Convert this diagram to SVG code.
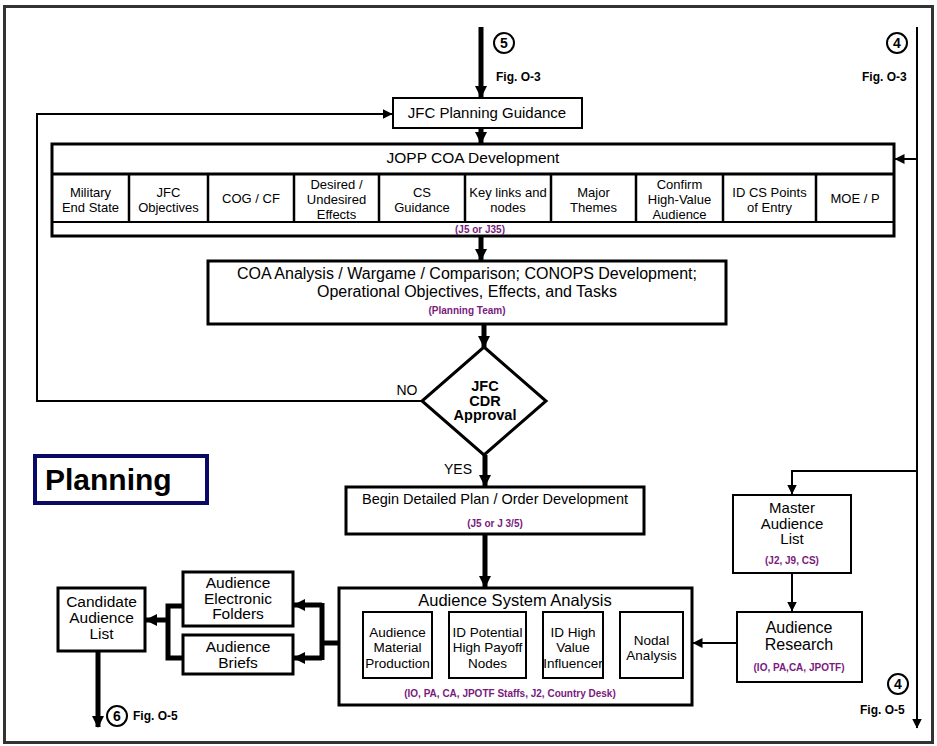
<svg xmlns="http://www.w3.org/2000/svg" width="937" height="746" viewBox="0 0 937 746">
<style>
text{font-family:"Liberation Sans",Arial,sans-serif;fill:#000;text-anchor:middle}
.t13{font-size:13px}.t14{font-size:14px}.t15{font-size:15px}.t16{font-size:16px}
.p{font-size:10px;font-weight:bold;fill:#7a1a7e}
.fig{font-size:12px;font-weight:bold;text-anchor:start}
.num{font-size:14px;font-weight:bold}
.dm{font-size:14.5px;font-weight:bold}
.b2{fill:#fff;stroke:#000;stroke-width:2}
.b3{fill:#fff;stroke:#000;stroke-width:3}
.thick{fill:none;stroke:#000;stroke-width:5}
.thin{fill:none;stroke:#000;stroke-width:2}
</style>
<defs>
<marker id="ah" viewBox="0 0 12 12" refX="11" refY="6" markerWidth="12" markerHeight="12" markerUnits="userSpaceOnUse" orient="auto"><path d="M0,0 L12,6 L0,12 z" fill="#000"/></marker>
<marker id="as" viewBox="0 0 10 10" refX="9.5" refY="5" markerWidth="10" markerHeight="10" markerUnits="userSpaceOnUse" orient="auto"><path d="M0,0 L10,5 L0,10 z" fill="#000"/></marker>
</defs>
<rect x="0" y="0" width="937" height="746" fill="#fff"/>
<rect x="4.5" y="6.5" width="928" height="736" fill="none" stroke="#333" stroke-width="3"/>

<g id="connectors">
<line class="thick" x1="481" y1="27" x2="481" y2="97" marker-end="url(#ah)"/>
<line class="thick" x1="481" y1="128" x2="481" y2="143" marker-end="url(#ah)"/>
<polyline class="thin" points="422,401 37,401 37,114 392,114" marker-end="url(#as)"/>
<line class="thin" x1="917" y1="27" x2="917" y2="728" marker-end="url(#as)"/>
<line class="thin" x1="917" y1="159" x2="895" y2="159" marker-end="url(#as)"/>
<polyline class="thin" points="917,471 792,471 792,494" marker-end="url(#as)"/>
<line class="thick" x1="481" y1="237" x2="481" y2="260" marker-end="url(#ah)"/>
<line class="thick" x1="484" y1="325" x2="484" y2="347" marker-end="url(#ah)"/>
<line class="thick" x1="485" y1="455" x2="485" y2="486" marker-end="url(#ah)"/>
<line class="thick" x1="485" y1="535" x2="485" y2="587" marker-end="url(#ah)"/>
<line class="thin" x1="792" y1="573" x2="792" y2="611" marker-end="url(#as)"/>
<line class="thin" x1="737" y1="643" x2="693" y2="643" marker-end="url(#as)"/>
<line class="thick" x1="620" y1="643" x2="604" y2="643" marker-end="url(#ah)"/>
<line class="thick" x1="543" y1="643" x2="527" y2="643" marker-end="url(#ah)"/>
<line class="thick" x1="449" y1="643" x2="433" y2="643" marker-end="url(#ah)"/>
<line class="thick" x1="363" y1="643" x2="340" y2="643" marker-end="url(#ah)"/>
<line class="thick" x1="339" y1="643" x2="320" y2="643"/>
<line class="thick" x1="322" y1="603" x2="322" y2="660"/>
<line class="thick" x1="322" y1="605" x2="294" y2="605" marker-end="url(#ah)"/>
<line class="thick" x1="322" y1="658" x2="294" y2="658" marker-end="url(#ah)"/>
<polyline class="thick" points="183,606 168,606 168,658 183,658"/>
<line class="thick" x1="168" y1="620" x2="146" y2="620" marker-end="url(#ah)"/>
<line class="thick" x1="98" y1="651" x2="98" y2="727" marker-end="url(#ah)"/>
</g>

<g id="ref5"><circle cx="504" cy="43" r="10" fill="#fff" stroke="#000" stroke-width="2"/><text class="num" x="504" y="48">5</text><text class="fig" x="496" y="81">Fig. O-3</text></g>
<g id="ref4top"><circle cx="897" cy="43" r="10" fill="#fff" stroke="#000" stroke-width="2"/><text class="num" x="897" y="48">4</text><text class="fig" x="862" y="81">Fig. O-3</text></g>
<g id="ref4bot"><circle cx="898" cy="684" r="10" fill="#fff" stroke="#000" stroke-width="2"/><text class="num" x="898" y="689">4</text><text class="fig" x="860" y="714">Fig. O-5</text></g>
<g id="ref6"><circle cx="117" cy="716" r="10" fill="#fff" stroke="#000" stroke-width="2"/><text class="num" x="117" y="721">6</text><text class="fig" x="133" y="720">Fig. O-5</text></g>

<g id="jfc-guidance"><rect class="b2" x="393" y="98" width="189" height="30"/><text class="t15" x="487" y="118">JFC Planning Guidance</text></g>

<g id="jopp">
<rect class="b3" x="52" y="144" width="842" height="92"/>
<line x1="52" y1="174" x2="894" y2="174" stroke="#000" stroke-width="3"/>
<line x1="52" y1="222" x2="894" y2="222" stroke="#000" stroke-width="2"/>
<g stroke="#000" stroke-width="2.5">
<line x1="129" y1="174" x2="129" y2="222"/><line x1="208" y1="174" x2="208" y2="222"/><line x1="294" y1="174" x2="294" y2="222"/><line x1="379" y1="174" x2="379" y2="222"/><line x1="465" y1="174" x2="465" y2="222"/><line x1="551" y1="174" x2="551" y2="222"/><line x1="636" y1="174" x2="636" y2="222"/><line x1="723" y1="174" x2="723" y2="222"/><line x1="816" y1="174" x2="816" y2="222"/>
</g>
<text x="473" y="162.5" style="font-size:15.5px">JOPP COA Development</text>
<text class="t13" x="90.5" y="196.5">Military</text><text class="t13" x="90.5" y="211.5">End State</text>
<text class="t13" x="168.5" y="196.5">JFC</text><text class="t13" x="168.5" y="211.5">Objectives</text>
<text class="t13" x="251" y="202.5">COG / CF</text>
<text class="t13" x="336.5" y="188.5">Desired /</text><text class="t13" x="336.5" y="203.5">Undesired</text><text class="t13" x="336.5" y="218.5">Effects</text>
<text class="t13" x="422" y="196.5">CS</text><text class="t13" x="422" y="211.5">Guidance</text>
<text class="t13" x="508" y="196.5">Key links and</text><text class="t13" x="508" y="211.5">nodes</text>
<text class="t13" x="593.5" y="196.5">Major</text><text class="t13" x="593.5" y="211.5">Themes</text>
<text class="t13" x="679.5" y="188.5">Confirm</text><text class="t13" x="679.5" y="203.5">High-Value</text><text class="t13" x="679.5" y="218.5">Audience</text>
<text class="t13" x="769.5" y="196.5">ID CS  Points</text><text class="t13" x="769.5" y="211.5">of Entry</text>
<text class="t13" x="855" y="202.5">MOE / P</text>
<text class="p" x="480" y="232.5">(J5 or J35)</text>
</g>

<g id="coa-analysis"><rect class="b3" x="208" y="261" width="518" height="63"/>
<text class="t16" x="467" y="279">COA Analysis / Wargame / Comparison; CONOPS Development;</text>
<text class="t16" x="467" y="296.5">Operational Objectives, Effects, and Tasks</text>
<text class="p" x="467" y="314">(Planning Team)</text></g>

<g id="approval"><polygon points="484,347 546,401 484,455 422,401" fill="#fff" stroke="#000" stroke-width="3"/>
<text class="dm" x="485" y="391">JFC</text>
<text class="dm" x="485" y="405.5">CDR</text>
<text class="dm" x="485" y="420">Approval</text>
<text class="t14" x="407" y="395">NO</text>
<text class="t14" x="458" y="474">YES</text></g>

<g id="planning-title"><rect x="35" y="456" width="172" height="47" fill="#fff" stroke="#0a0a66" stroke-width="4"/>
<text x="45" y="490" style="font-size:30px;font-weight:bold;text-anchor:start">Planning</text></g>

<g id="detailed-plan"><rect class="b3" x="346" y="487" width="298" height="47"/>
<text x="495" y="504" style="font-size:14.5px">Begin Detailed Plan / Order Development</text>
<text class="p" x="495" y="526.5">(J5 or J 3/5)</text></g>

<g id="master-list"><rect class="b2" x="733" y="495" width="118" height="78"/>
<text class="t15" x="792" y="513">Master</text>
<text class="t15" x="792" y="528.5">Audience</text>
<text class="t15" x="792" y="544">List</text>
<text class="p" x="792" y="564">(J2, J9, CS)</text></g>

<g id="audience-research"><rect class="b2" x="737" y="612" width="125" height="70"/>
<text class="t16" x="799" y="633">Audience</text>
<text class="t16" x="799" y="649.5">Research</text>
<text class="p" x="799" y="671">(IO, PA,CA, JPOTF)</text></g>

<g id="audience-system-analysis"><rect class="b3" x="339" y="588" width="353" height="117"/>
<text x="515" y="605.5" style="font-size:16.5px">Audience System  Analysis</text>
<text class="p" x="510" y="696.5">(IO, PA, CA, JPOTF Staffs, J2, Country Desk)</text></g>
<g id="material-production"><rect class="b2" x="363" y="612" width="69" height="66"/>
<text x="397.5" y="636.5" style="font-size:13.5px">Audience</text><text x="397.5" y="652" style="font-size:13.5px">Material</text><text x="397.5" y="667.5" style="font-size:13.5px">Production</text></g>
<g id="high-payoff-nodes"><rect class="b2" x="449" y="612" width="77" height="66"/>
<text x="487.5" y="636.5" style="font-size:13.5px">ID Potential</text><text x="487.5" y="652" style="font-size:13.5px">High Payoff</text><text x="487.5" y="667.5" style="font-size:13.5px">Nodes</text></g>
<g id="high-value-influencer"><rect class="b2" x="543" y="612" width="60" height="66"/>
<text x="573" y="636.5" style="font-size:13.5px">ID High</text><text x="573" y="652" style="font-size:13.5px">Value</text><text x="573" y="667.5" style="font-size:13.5px">Influencer</text></g>
<g id="nodal-analysis"><rect class="b2" x="620" y="612" width="63" height="66"/>
<text x="651.5" y="644.5" style="font-size:13.5px">Nodal</text><text x="651.5" y="660" style="font-size:13.5px">Analysis</text></g>

<g id="electronic-folders"><rect class="b3" x="183" y="572" width="110" height="54"/>
<text x="238" y="588" style="font-size:15.5px">Audience</text><text x="238" y="603.5" style="font-size:15.5px">Electronic</text><text x="238" y="619" style="font-size:15.5px">Folders</text></g>
<g id="audience-briefs"><rect class="b3" x="183" y="635" width="110" height="39"/>
<text x="238" y="652" style="font-size:15.5px">Audience</text><text x="238" y="667.5" style="font-size:15.5px">Briefs</text></g>
<g id="candidate-list"><rect class="b3" x="58" y="588" width="87" height="63"/>
<text x="101.5" y="607" style="font-size:15.5px">Candidate</text><text x="101.5" y="623" style="font-size:15.5px">Audience</text><text x="101.5" y="639" style="font-size:15.5px">List</text></g>
</svg>
